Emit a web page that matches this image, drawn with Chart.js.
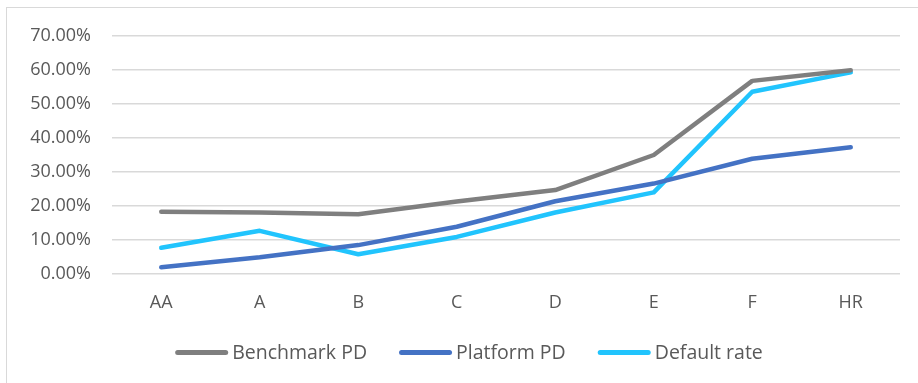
<!DOCTYPE html>
<html>
<head>
<meta charset="utf-8">
<script src="https://cdn.jsdelivr.net/npm/chart.js@4"></script>
<style>
  html, body { margin: 0; padding: 0; background: #fff; }
  body { width: 918px; height: 383px; overflow: hidden; position: relative; }
  .frame {
    position: absolute; left: 6px; top: 7px; width: 940px; height: 400px;
    border-left: 1px solid #d9d9d9; border-top: 1px solid #d9d9d9;
  }
  #wrap { position: absolute; left: 0; top: 0; width: 918px; height: 383px; }
</style>
</head>
<body>
<div class="frame"></div>
<div id="wrap"><canvas id="pdChart"></canvas></div>
<script>
// Rating grades and PD / default rate per grade (in %)
const grades = ["AA", "A", "B", "C", "D", "E", "F", "HR"];
const benchmarkPD = [18.3, 18.1, 17.6, 21.3, 24.7, 35.0, 56.8, 59.9];
const platformPD = [2.0, 4.9, 8.5, 13.9, 21.4, 26.6, 33.9, 37.3];
const defaultRate = [7.7, 12.7, 5.8, 10.9, 18.1, 24.0, 53.6, 59.3];

const textColor = "#595959";
const gridColor = "#d9d9d9";
const fontFamily = "'Open Sans', sans-serif";

function lineSet(label, data, color) {
  return {
    label: label,
    data: data,
    borderColor: color,
    backgroundColor: color,
    borderWidth: 4.5,
    borderCapStyle: "round",
    borderJoinStyle: "round",
    pointRadius: 0,
    tension: 0,
    fill: false,
  };
}

// Excel-style legend: short line sample with the label right next to it
const lineLegend = {
  id: "lineLegend",
  afterDraw(chart) {
    const ctx = chart.ctx;
    const sampleLen = 53;
    const textGap = 4;
    const itemGap = 32;
    const y = 352.5;

    ctx.save();
    ctx.font = "19.5px " + fontFamily;
    ctx.textBaseline = "middle";
    ctx.textAlign = "left";

    const items = chart.data.datasets.map((ds) => ({
      ds: ds,
      w: ctx.measureText(ds.label).width,
    }));
    const total =
      items.reduce((sum, it) => sum + sampleLen + textGap + it.w, 0) +
      itemGap * (items.length - 1);

    let x = chart.width / 2 + 10 - total / 2;
    items.forEach((it) => {
      ctx.strokeStyle = it.ds.borderColor;
      ctx.lineWidth = 5;
      ctx.lineCap = "round";
      ctx.beginPath();
      ctx.moveTo(x + 2.5, y);
      ctx.lineTo(x + sampleLen - 2.5, y);
      ctx.stroke();

      ctx.fillStyle = textColor;
      ctx.fillText(it.ds.label, x + sampleLen + textGap, y + 1);
      x += sampleLen + textGap + it.w + itemGap;
    });
    ctx.restore();
  },
};

new Chart(document.getElementById("pdChart"), {
  type: "line",
  data: {
    labels: grades,
    datasets: [
      lineSet("Benchmark PD", benchmarkPD, "#7f7f7f"),
      lineSet("Platform PD", platformPD, "#4472c4"),
      lineSet("Default rate", defaultRate, "#21c4fd"),
    ],
  },
  options: {
    responsive: true,
    maintainAspectRatio: false,
    animation: false,
    layout: { padding: { left: 0, right: 18, top: 36, bottom: 65 } },
    plugins: {
      legend: { display: false },
      tooltip: { enabled: false },
    },
    scales: {
      y: {
        min: 0,
        max: 70,
        afterFit: (scale) => { scale.width = 112; },
        border: { display: false },
        grid: { color: gridColor, lineWidth: 1.5, drawTicks: false },
        ticks: {
          stepSize: 10,
          padding: 21,
          color: textColor,
          font: { family: fontFamily, size: 18 },
          callback: (value) => value.toFixed(2) + "%",
        },
      },
      x: {
        offset: true,
        afterFit: (scale) => { scale.height = 44; },
        border: { display: false },
        grid: { display: false, drawTicks: false, offset: true },
        ticks: {
          padding: 18,
          color: textColor,
          font: { family: fontFamily, size: 18 },
        },
      },
    },
  },
  plugins: [lineLegend],
});
</script>
</body>
</html>
